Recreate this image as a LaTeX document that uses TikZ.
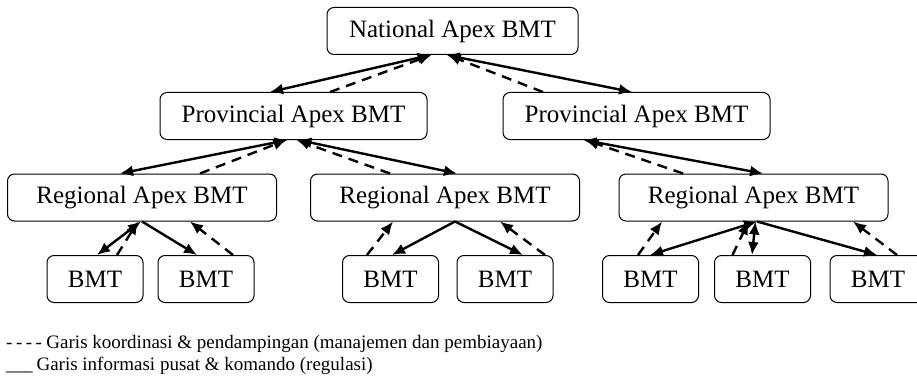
\documentclass[tikz,border=0pt]{standalone}
\usepackage{fontspec}
\usepackage{graphicx}
\setmainfont{Liberation Serif}
\usetikzlibrary{arrows.meta}

\tikzset{
  unit/.style={draw,rounded corners=7pt,line width=1pt,minimum height=47pt,inner sep=0pt,font=\fontsize{25}{29}\selectfont},
  apex/.style={unit,minimum width=269pt},
  bmtbox/.style={unit,minimum width=96pt},
  komando/.style={line width=2.4pt,{Latex[length=13pt,width=11pt]}-{Latex[length=13pt,width=11pt]}},
  komandoone/.style={line width=2.4pt,-{Latex[length=13pt,width=11pt]}},
  koord/.style={line width=2.4pt,dash pattern=on 10pt off 7pt,-{Latex[length=13pt,width=11pt]}},
  legend/.style={anchor=west,inner sep=0pt,font=\fontsize{19}{22}\selectfont}
}

\begin{document}
\begin{tikzpicture}[x=1pt,y=-1pt]
\useasboundingbox (0,0) rectangle (917,385);
% levels
\node[apex,minimum width=251pt] (nat) at (452.5,31) {National Apex BMT};
\node[apex,minimum width=267pt] (provL) at (293.5,116) {Provincial Apex BMT};
\node[apex,minimum width=267pt] (provR) at (636.5,116) {Provincial Apex BMT};
\node[apex] (regL) at (142,197.5) {Regional Apex BMT};
\node[apex] (regM) at (445,197.5) {Regional Apex BMT};
\node[apex] (regR) at (753.5,197.5) {Regional Apex BMT};
\node[bmtbox] (b1) at (95,279) {BMT};
\node[bmtbox] (b2) at (206,279) {BMT};
\node[bmtbox] (b3) at (390.5,279) {BMT};
\node[bmtbox] (b4) at (505,279) {BMT};
\node[bmtbox] (b5) at (650.5,279) {BMT};
\node[bmtbox] (b6) at (762.5,279) {BMT};
\node[bmtbox] (b7) at (878,279) {BMT};
% national - provincial
\draw[komando] ([xshift=-23.5pt]provL.north) -- ([xshift=-22pt]nat.south);
\draw[koord] ([xshift=36.5pt]provL.north) -- ([xshift=-21pt]nat.south);
\draw[komando] ([xshift=-6pt]nat.south) -- ([xshift=-4.5pt]provR.north);
\draw[koord] ([xshift=-93.5pt]provR.north) -- ([xshift=-5pt]nat.south);
% provincial - regional
\draw[komando] ([xshift=-6pt]provL.south) -- ([xshift=-22pt]regL.north);
\draw[koord] ([xshift=58pt]regL.north) -- ([xshift=-7pt]provL.south);
\draw[komando] ([xshift=5pt]provL.south) -- ([xshift=12pt]regM.north);
\draw[koord] ([xshift=-55pt]regM.north) -- ([xshift=3pt]provL.south);
\draw[komando] ([xshift=-53pt]provR.south) -- ([xshift=9.5pt]regR.north);
\draw[koord] ([xshift=-70.5pt]regR.north) -- ([xshift=-51pt]provR.south);
% regional - bmt
\draw[komando] ([xshift=-1pt]regL.south) -- ([xshift=2pt]b1.north);
\draw[koord] ([xshift=22pt]b1.north) -- ([xshift=-4pt]regL.south);
\draw[komandoone] ([xshift=0pt]regL.south) -- ([xshift=-9pt]b2.north);
\draw[koord] ([xshift=27pt]b2.north) -- ([xshift=48pt]regL.south);
\draw[komandoone] ([xshift=10pt]regM.south) -- ([xshift=1.5pt]b3.north);
\draw[komandoone] ([xshift=10pt]regM.south) -- ([xshift=18pt]b4.north);
\draw[koord] ([xshift=-23.5pt]b3.north) -- ([xshift=-52pt]regM.south);
\draw[koord] ([xshift=40pt]b4.north) -- ([xshift=55pt]regM.south);
\draw[komando] ([xshift=3.5pt]regR.south) -- ([xshift=-0.5pt]b5.north);
\draw[koord] ([xshift=-12.5pt]b5.north) -- ([xshift=-91.5pt]regR.south);
\draw[komando] ([xshift=2pt]regR.south) -- ([xshift=-10.5pt]b6.north);
\draw[koord] ([xshift=-30pt]b6.north) -- ([xshift=-5pt]regR.south);
\draw[komandoone] ([xshift=3.5pt]regR.south) -- ([xshift=-1pt]b7.north);
\draw[koord] ([xshift=19pt]b7.north) -- ([xshift=99.5pt]regR.south);
% legend
\node[legend] (leg1) at (6,344) {{\spaceskip=3.5pt plus 0pt - - - -}\kern4.5pt Garis koordinasi \& pendampingan (manajemen dan pembiayaan)};
\node[legend] (leg2) at (6,366) {\scalebox{0.7}[1]{\_\_\_\_}\kern-1pt\ Garis informasi pusat \& komando (regulasi)};
\end{tikzpicture}
\end{document}
